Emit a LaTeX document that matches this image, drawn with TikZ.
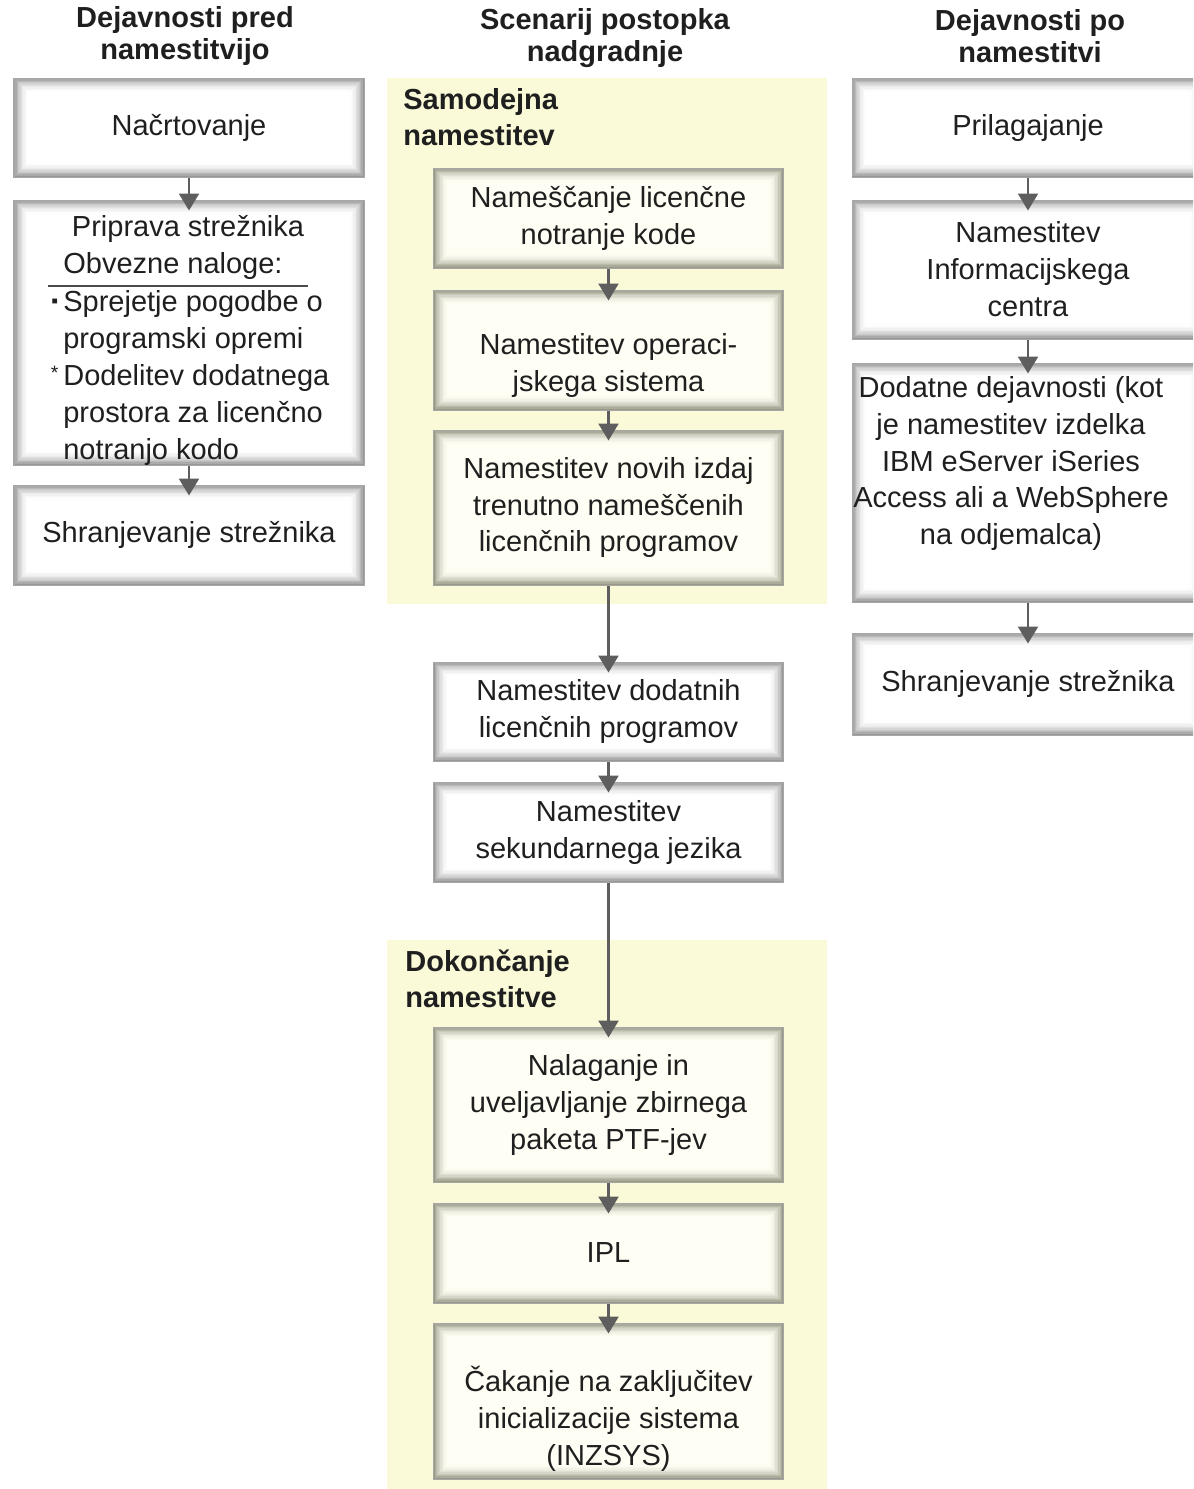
\documentclass[tikz,border=0pt]{standalone}
\usepackage{fontspec}
\setmainfont{Liberation Sans}
\usepackage{xcolor}
\usepackage{tikz}
\usetikzlibrary{arrows.meta, positioning, backgrounds}

\definecolor{panelyellow}{HTML}{FAFAD8}
\definecolor{boxcream}{HTML}{FEFEF4}
\definecolor{edgegray}{HTML}{7E7E7E}
\definecolor{edgeolive}{HTML}{80806A}
\definecolor{arrowgray}{HTML}{5E5E5E}

% soft inner edge of the step boxes
\newcommand\innerglow[2]{%
  \foreach \lay [evaluate=\lay as \pct using 80*(1-\lay/11)^2] in {0,...,10}
    \draw[#1!\pct!#2, line width=0.03cm]
      ([shift={({(\lay+0.5)*0.027},{-(\lay+0.5)*0.027})}]path picture bounding box.north west)
      rectangle
      ([shift={({-(\lay+0.5)*0.027},{(\lay+0.5)*0.027})}]path picture bounding box.south east);
}

\begin{document}
\begin{tikzpicture}[
  >=Stealth,
  every node/.style={font=\fontsize{16.5}{21.05}\selectfont, text=black!88},
  taskbox/.style ={draw=black!35, line width=0.02cm, fill=white, align=center,
                   minimum width=7.0cm, inner sep=0pt,
                   path picture={\innerglow{edgegray}{white}}},
  panelbox/.style={taskbox, fill=boxcream,
                   path picture={\innerglow{edgeolive}{boxcream}}},
  boxtext/.style ={align=center, inner sep=0pt},
  listline/.style={align=left, anchor=west, inner sep=0pt},
  colhead/.style ={align=center, inner sep=0pt,
                   font=\fontsize{16.5}{18.2}\selectfont\bfseries},
  stageLabel/.style={align=left, anchor=west, inner sep=0pt,
                   font=\fontsize{16.5}{20.5}\selectfont\bfseries},
  arr/.style={-{Triangle[width=0.4cm, length=0.34cm]}, line width=0.05cm,
              draw=arrowgray, shorten >=-0.22cm},
]
\path[use as bounding box] (0, 0) rectangle (23.86, -29.78);
\clip (0, 0) rectangle (23.86, -29.78);

%% ── Column heads ────────────────────────────────────────────────────────────
\node[colhead] (headpre)  at (3.70, -0.72)  {Dejavnosti pred\\namestitvijo};
\node[colhead] (headscen) at (12.10, -0.77) {Scenarij postopka\\nadgradnje};
\node[colhead] (headpost) at (20.60, -0.72) {Dejavnosti po\\namestitvi};

%% ── Before the install ──────────────────────────────────────────────────────
\node[taskbox, minimum height=1.98cm] (plan) at (3.78, -2.55) {Načrtovanje};
\node[taskbox, minimum height=5.30cm] (prep) at (3.78, -6.65) {};
\node[taskbox, minimum height=2.00cm] (save) at (3.78, -10.70)
  {Shranjevanje strežnika};

\node[boxtext] (preptitle) at (3.76, -4.58) {Priprava strežnika};
\node[listline] (prephead) at (1.26, -5.32) {Obvezne naloge:};
\draw[black!70, line width=0.025cm] (0.96, -5.72) -- (6.16, -5.72);
\node[listline] (preplist) at (1.26, -7.56)
  {\llap{\raisebox{0.08cm}{\fontsize{11}{11}\selectfont ▪}\hspace{0.1cm}}Sprejetje pogodbe o\\
   programski opremi\\
   \llap{\raisebox{0.12cm}{\fontsize{11}{11}\selectfont *}\hspace{0.1cm}}Dodelitev dodatnega\\
   prostora za licenčno\\
   notranjo kodo};

%% ── Upgrade scenario ────────────────────────────────────────────────────────
\node[panelbox, minimum height=2.00cm] (lic) at (12.17, -4.36)
  {Nameščanje licenčne\\notranje kode};
\node[panelbox, minimum height=2.40cm] (os)  at (12.17, -7.00) {};
\node[boxtext] (ostext) at (12.17, -7.31) {Namestitev operaci-\\jskega sistema};
\node[panelbox, minimum height=3.10cm] (rel) at (12.17, -10.15)
  {Namestitev novih izdaj\\trenutno nameščenih\\licenčnih programov};

\node[taskbox, minimum height=1.98cm] (addlp) at (12.17, -14.23)
  {Namestitev dodatnih\\licenčnih programov};
\node[taskbox, minimum height=2.00cm] (lang)  at (12.17, -16.64)
  {Namestitev\\sekundarnega jezika};

\node[panelbox, minimum height=3.10cm] (ptf)  at (12.17, -22.09)
  {Nalaganje in\\uveljavljanje zbirnega\\paketa PTF-jev};
\node[panelbox, minimum height=2.00cm] (ipl)  at (12.17, -25.06) {IPL};
\node[panelbox, minimum height=3.12cm] (wait) at (12.17, -28.02) {};
\node[boxtext] (waittext) at (12.17, -28.38)
  {Čakanje na zaključitev\\inicializacije sistema\\(INZSYS)};

%% ── After the install ───────────────────────────────────────────────────────
\node[taskbox, minimum width=7.04cm, minimum height=1.98cm] (cust) at (20.56, -2.55)
  {Prilagajanje};
\node[taskbox, minimum width=7.04cm, minimum height=2.78cm] (info) at (20.56, -5.39)
  {Namestitev\\Informacijskega\\centra};
\node[taskbox, minimum width=7.04cm, minimum height=4.78cm] (extra) at (20.56, -9.65) {};
\node[boxtext] (extratext) at (20.22, -9.27)
  {Dodatne dejavnosti (kot\\je namestitev izdelka\\IBM eServer iSeries\\Access ali a WebSphere\\na odjemalca)};
\node[taskbox, minimum width=7.04cm, minimum height=2.04cm] (savepost) at (20.56, -13.68)
  {Shranjevanje strežnika};

%% ── Enclosures ──────────────────────────────────────────────────────────────
\begin{scope}[on background layer]
  \fill[panelyellow] (7.74, -1.56) rectangle (16.54, -12.08);
  \fill[panelyellow] (7.74, -18.80) rectangle (16.54, -29.78);
\end{scope}

\node[stageLabel] (autolabel) at (8.06, -2.34) {Samodejna\\namestitev};
\node[stageLabel] (finlabel)  at (8.10, -19.57) {Dokončanje\\namestitve};

%% ── Arrows ──────────────────────────────────────────────────────────────────
\draw[arr] (plan) -- (prep);
\draw[arr] (prep) -- (save);

\draw[arr] (lic)   -- (os);
\draw[arr] (os)    -- (rel);
\draw[arr] (rel)   -- (addlp);
\draw[arr] (addlp) -- (lang);
\draw[arr] (lang)  -- (ptf);
\draw[arr] (ptf)   -- (ipl);
\draw[arr] (ipl)   -- (wait);

\draw[arr] (cust)  -- (info);
\draw[arr] (info)  -- (extra);
\draw[arr] (extra) -- (savepost);

\end{tikzpicture}
\end{document}
